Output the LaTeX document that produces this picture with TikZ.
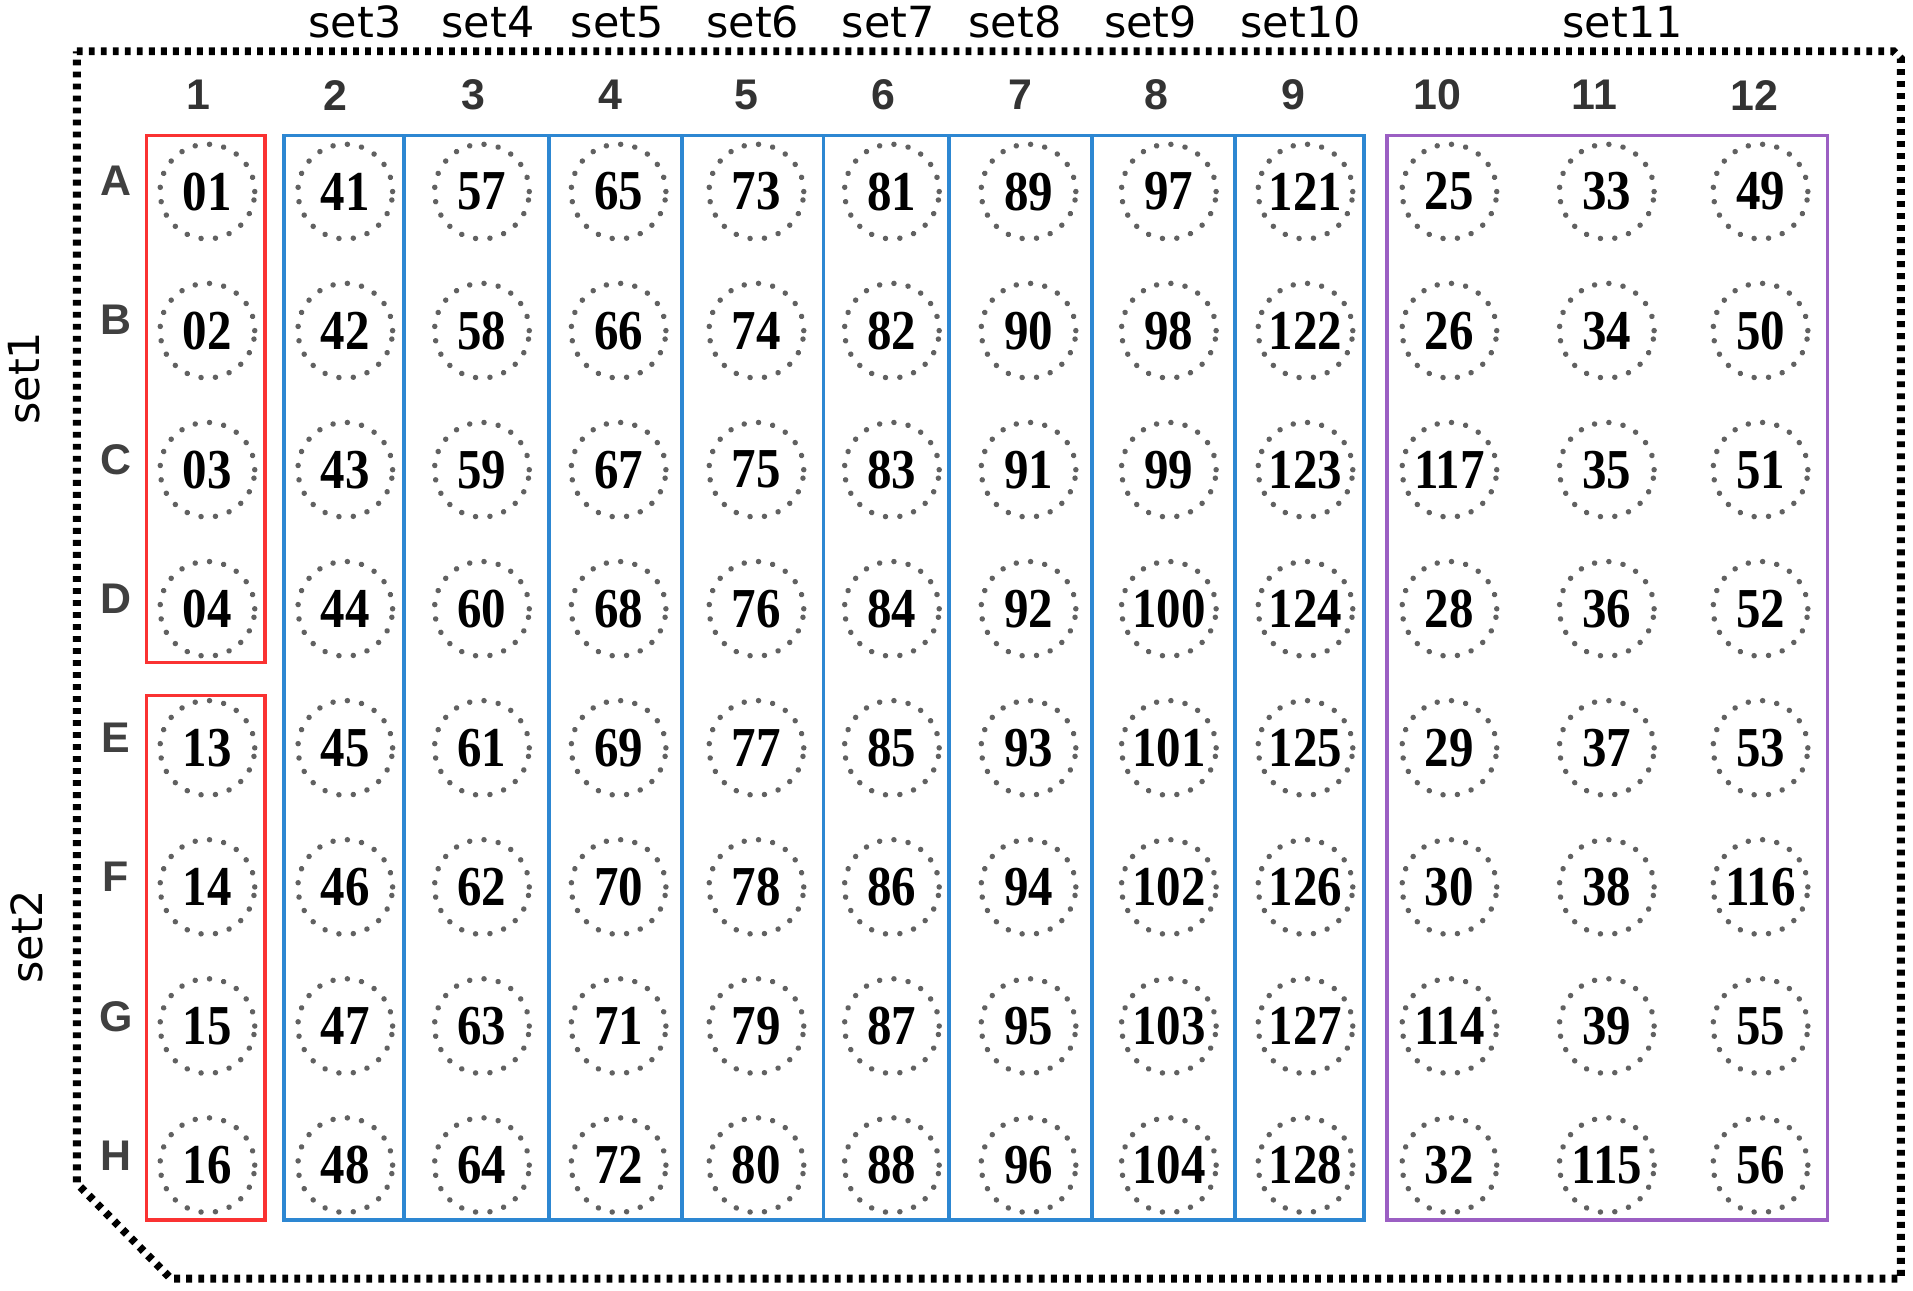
\documentclass[tikz,border=0pt]{standalone}
\usepackage{fontspec}
\setmainfont{Liberation Serif}
\newfontfamily\setfont{DejaVu Sans}
\newfontfamily\gridfont{Liberation Sans}
\usetikzlibrary{positioning}
\definecolor{setred}{RGB}{250,50,50}
\definecolor{setblue}{RGB}{45,135,210}
\definecolor{setpurple}{RGB}{155,95,195}

\begin{document}
\begin{tikzpicture}[x=0.0125cm,y=-0.0125cm,
	well/.style={circle,draw=black!62,line width=1.6pt,line cap=round,dash pattern=on 0.01pt off 4.2pt,minimum size=0.97cm,inner sep=0pt,font=\bfseries\fontsize{15.5}{16}\selectfont},
	colnum/.style={font=\gridfont\bfseries\fontsize{12.5}{14}\selectfont,text=black!80},
	rowlab/.style={font=\gridfont\bfseries\fontsize{12.5}{14}\selectfont,text=black!75},
	setlab/.style={font=\setfont\fontsize{12.5}{14}\selectfont},
	plate/.style={line width=2.3pt,dash pattern=on 1.7pt off 1.8pt},
	grpred/.style={draw=setred,line width=1.1pt},
	grpblue/.style={draw=setblue,line width=1.1pt},
	grppurple/.style={draw=setpurple,line width=1.1pt}]
	\useasboundingbox (0,0) rectangle (1568,1058);
	% plate outline with cut corner
	\draw[plate] (63,42) -- (1552,42) -- (1558,48) -- (1558,1048) -- (140,1048) -- (63,970) -- cycle;
	% set labels
	\foreach \s/\xx in {3/291,4/400,5/506,6/617,7/728,8/832,9/943,10/1066,11/1330}
		\node[setlab] (set\s) at (\xx,18) {set\s};
	\node[setlab,rotate=90] (set1) at (20,310) {set1};
	\node[setlab,rotate=90] (set2) at (22,768) {set2};
	% column numbers and row letters
	\foreach \n/\xx in {1/163,2/275,3/388,4/500,5/612,6/724,7/836,8/948,9/1060,10/1178,11/1307,12/1438}
		\node[colnum] (col\n) at (\xx,78) {\n};
	\foreach \r/\yy in {A/148,B/262,C/377,D/491,E/605,F/719,G/833,H/947}
		\node[rowlab] (row\r) at (95,\yy) {\r};
	% wells
	\foreach \r/\yy/\vals in {
		A/157/{01,41,57,65,73,81,89,97,121,25,33,49},
		B/271/{02,42,58,66,74,82,90,98,122,26,34,50},
		C/385/{03,43,59,67,75,83,91,99,123,117,35,51},
		D/499/{04,44,60,68,76,84,92,100,124,28,36,52},
		E/613/{13,45,61,69,77,85,93,101,125,29,37,53},
		F/727/{14,46,62,70,78,86,94,102,126,30,38,116},
		G/841/{15,47,63,71,79,87,95,103,127,114,39,55},
		H/955/{16,48,64,72,80,88,96,104,128,32,115,56}}{
		\foreach \v [count=\c] in \vals {
			\pgfmathsetmacro\xx{{170,283,395,507,620,731,843,958,1070,1188,1317,1443}[\c-1]}
			\node[well] (well\r\c) at (\xx,\yy) {\scalebox{0.92}[1.06]{\v}};
		}
	}
	% groups
	\draw[grpred] (120,111) rectangle (217,543);
	\draw[grpred] (120,570) rectangle (217,1000);
	\draw[grpblue] (233,111) rectangle (1118,1000);
	\foreach \xx in {331,450,559,675,778,895,1012}
		\draw[grpblue] (\xx,111) -- (\xx,1000);
	\draw[grppurple] (1137,111) rectangle (1498,1000);
\end{tikzpicture}
\end{document}
